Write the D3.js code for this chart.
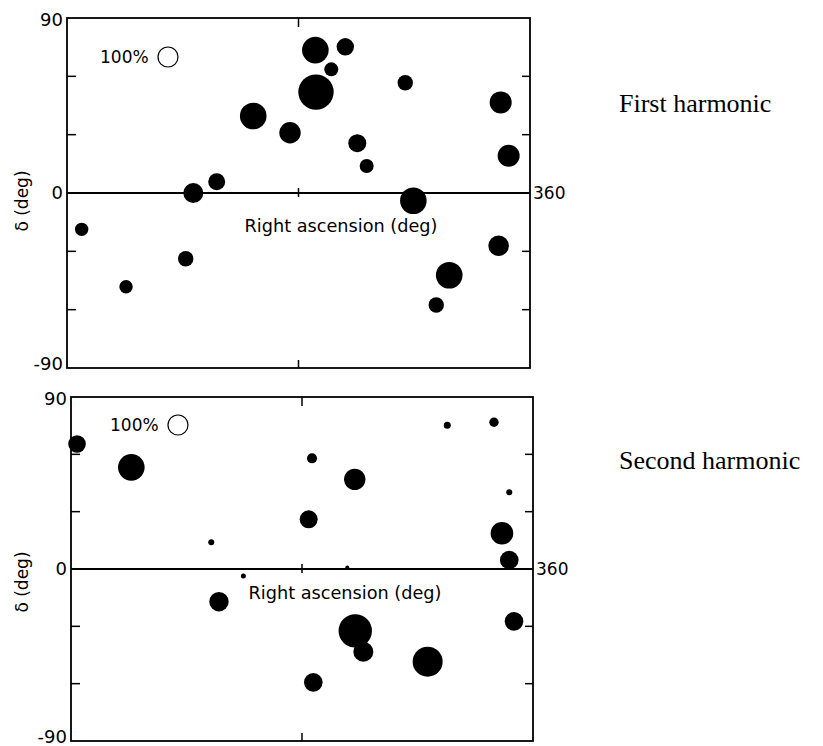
<!DOCTYPE html>
<html>
<head>
<meta charset="utf-8">
<script src="https://cdn.jsdelivr.net/npm/d3@7"></script>
<style>
  body { margin: 0; background: #fff; }
  svg text { fill: #000; }
  .tick-label, .axis-label, .legend-label { font-family: "DejaVu Sans", sans-serif; }
  .panel-title { font-family: "Liberation Serif", "Times New Roman", serif; }
</style>
</head>
<body>
<div id="chart"></div>
<script>
// right ascension (deg), declination (deg), amplitude (%)
var firstRA  = [11.4, 45.9, 92.3, 98.2, 116.4, 144.8, 173.4, 193.1, 216.4, 205.5, 193.6, 225.7, 233.0, 263.0, 269.3, 337.2, 343.4, 335.6, 297.2, 287.1];
var firstDec = [-18.7, -48.2, -33.8, 0, 5.8, 39.6, 31.0, 73.5, 75.2, 63.6, 51.9, 25.6, 13.9, 56.7, -4.0, 46.6, 19.2, -27.1, -42.3, -57.6];
var firstAmp = [67, 67, 77, 100, 85, 133, 107, 133, 87, 70, 177, 90, 70, 77, 133, 110, 110, 103, 133, 77];

var secondRA  = [4.7, 47.0, 109.3, 134.3, 115.3, 187.8, 221.1, 185.2, 293.2, 329.6, 341.5, 335.8, 341.5, 215.3, 221.5, 227.8, 188.8, 277.9, 345.2];
var secondDec = [65.4, 53.2, 14.0, -3.7, -17.1, 57.9, 46.9, 26.0, 75.2, 76.8, 40.1, 18.7, 4.7, 0.8, -32.4, -43.3, -59.3, -48.5, -27.4];
var secondAmp = [88, 133, 30, 25, 97, 50, 107, 90, 35, 47, 30, 113, 93, 20, 167, 100, 93, 150, 93];

var raTicks = [180];
var decTicks = [-60, -30, 30, 60];
var decLabels = [90, 0, -90];
var refAmp = 100;

var width = 823, height = 746;

var svg = d3.select('#chart')
    .append('svg')
    .attr('width', width)
    .attr('height', height);

// marker radius grows with amplitude; 100% reference circle is r=10
var rScale = d3.scaleLinear().domain([0, 100]).range([0, 10]);

function zip(ra, dec, amp) {
    return ra.map(function(d, i) { return { ra: d, dec: dec[i], amp: amp[i] }; });
}

function drawPanel(cfg) {
    var x = d3.scaleLinear().domain([0, 360]).range([cfg.left, cfg.right]);
    var y = d3.scaleLinear().domain([-90, 90]).range([cfg.bottom, cfg.top]);

    var g = svg.append('g').attr('class', 'panel');

    g.append('rect')
        .attr('x', x(0))
        .attr('y', y(90))
        .attr('width', x(360) - x(0))
        .attr('height', y(-90) - y(90))
        .attr('fill', 'none')
        .attr('stroke', '#000')
        .attr('stroke-width', 1.8);

    // equator
    g.append('line')
        .attr('x1', x(0)).attr('x2', x(360))
        .attr('y1', y(0)).attr('y2', y(0))
        .attr('stroke', '#000')
        .attr('stroke-width', 1.8);

    // dec ticks, left and right, pointing inwards
    g.selectAll('.tick-l').data(decTicks).enter()
        .append('line')
        .attr('x1', x(0)).attr('x2', x(0) + 9)
        .attr('y1', function(d) { return y(d); })
        .attr('y2', function(d) { return y(d); })
        .attr('stroke', '#000').attr('stroke-width', 1.5);

    g.selectAll('.tick-r').data(decTicks).enter()
        .append('line')
        .attr('x1', x(360) - 8).attr('x2', x(360))
        .attr('y1', function(d) { return y(d); })
        .attr('y2', function(d) { return y(d); })
        .attr('stroke', '#000').attr('stroke-width', 1.5);

    // ra ticks: top, bottom and across the equator
    raTicks.forEach(function(t) {
        g.append('line')
            .attr('x1', x(t)).attr('x2', x(t))
            .attr('y1', y(90)).attr('y2', y(90) + 9)
            .attr('stroke', '#000').attr('stroke-width', 1.5);
        g.append('line')
            .attr('x1', x(t)).attr('x2', x(t))
            .attr('y1', y(-90) - 8).attr('y2', y(-90))
            .attr('stroke', '#000').attr('stroke-width', 1.5);
        g.append('line')
            .attr('x1', x(t)).attr('x2', x(t))
            .attr('y1', y(0) - 5).attr('y2', y(0) + 4)
            .attr('stroke', '#000').attr('stroke-width', 1.5);
    });

    // 90 sits a little below the frame top, -90 a little above the bottom
    g.selectAll('.dec-label').data(decLabels).enter()
        .append('text')
        .attr('class', 'tick-label')
        .attr('x', x(0) - 4)
        .attr('y', function(d) { return y(d) + 6 + (d > 0 ? 2 : d < 0 ? -4 : 0); })
        .attr('text-anchor', 'end')
        .attr('font-size', 18)
        .text(function(d) { return d; });

    g.append('text')
        .attr('class', 'tick-label')
        .attr('x', x(360) + 3)
        .attr('y', y(0) + 6)
        .attr('font-size', 17)
        .text('360');

    g.append('text')
        .attr('class', 'axis-label')
        .attr('x', cfg.raLabelX)
        .attr('y', y(0) + cfg.raLabelDy)
        .attr('text-anchor', 'middle')
        .attr('font-size', 18)
        .attr('textLength', 193)
        .attr('lengthAdjust', 'spacingAndGlyphs')
        .text('Right ascension (deg)');

    g.append('text')
        .attr('class', 'axis-label')
        .attr('text-anchor', 'middle')
        .attr('font-size', 17)
        .attr('transform', 'translate(28,' + cfg.decLabelY + ')rotate(-90)')
        .text('δ (deg)');

    // 100% reference
    g.append('text')
        .attr('class', 'legend-label')
        .attr('x', cfg.legendX)
        .attr('y', cfg.legendY)
        .attr('font-size', 17)
        .text('100%');

    g.append('circle')
        .attr('cx', cfg.legendX + 68)
        .attr('cy', cfg.legendY - 6)
        .attr('r', rScale(refAmp))
        .attr('fill', '#fff')
        .attr('stroke', '#000')
        .attr('stroke-width', 1.2);

    g.selectAll('.point').data(cfg.data).enter()
        .append('circle')
        .attr('class', 'point')
        .attr('cx', function(d) { return x(d.ra); })
        .attr('cy', function(d) { return y(d.dec); })
        .attr('r', function(d) { return rScale(d.amp); })
        .attr('fill', '#000');

    svg.append('text')
        .attr('class', 'panel-title')
        .attr('x', 619)
        .attr('y', cfg.titleY)
        .attr('font-size', 26)
        .text(cfg.title);
}

drawPanel({
    data: zip(firstRA, firstDec, firstAmp),
    left: 67, right: 530, top: 18, bottom: 368,
    raLabelX: 341, raLabelDy: 39,
    decLabelY: 201,
    legendX: 100, legendY: 63,
    title: 'First harmonic', titleY: 112
});

drawPanel({
    data: zip(secondRA, secondDec, secondAmp),
    left: 71, right: 533, top: 397, bottom: 741,
    raLabelX: 345, raLabelDy: 30,
    decLabelY: 582,
    legendX: 110, legendY: 431,
    title: 'Second harmonic', titleY: 469
});
</script>
</body>
</html>
